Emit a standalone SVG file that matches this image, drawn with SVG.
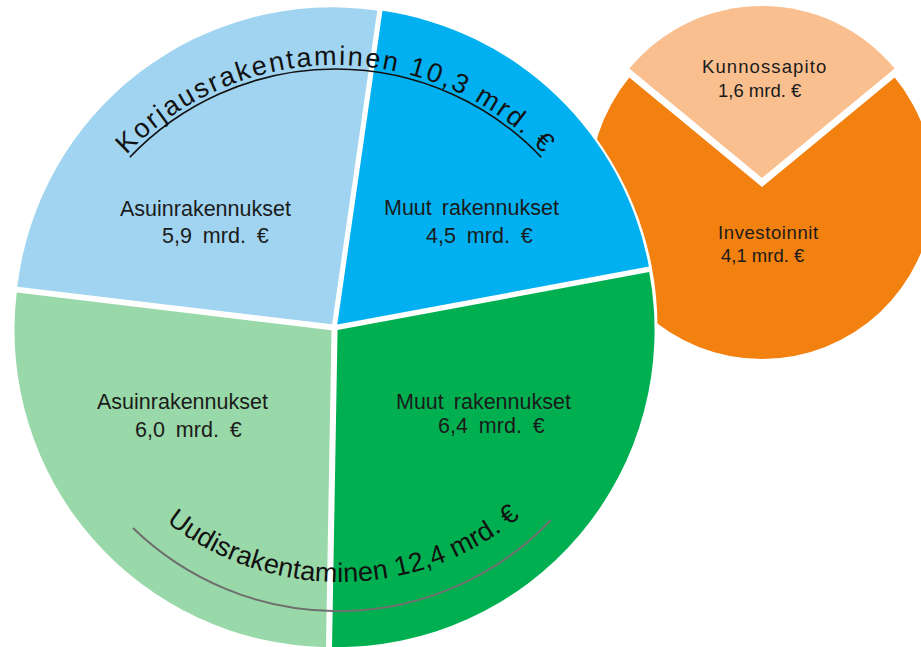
<svg xmlns="http://www.w3.org/2000/svg" width="921" height="647" viewBox="0 0 921 647">
<style>
.lbl{font-family:"Liberation Sans",Arial,sans-serif;font-size:21.5px;fill:#1b1b1b;word-spacing:4px}
.val{font-family:"Liberation Sans",Arial,sans-serif;font-size:21.5px;fill:#1b1b1b;word-spacing:5px}
.olbl{font-family:"Liberation Sans",Arial,sans-serif;font-size:18.5px;fill:#1b1b1b}
.arctxt{font-family:"Liberation Sans",Arial,sans-serif;font-size:27px;fill:#111}
</style>
<defs>
<path id="topTextPath" d="M126.6,154.8 A288,288 0 0,1 579.7,200.4"/>
<path id="botTextPath" d="M166.4,522.2 A282,282 0 0,0 584.2,441"/>
</defs>
<rect width="921" height="647" fill="#ffffff"/>
<g id="kunnossapito">
<path d="M762,178 L629.3,68.6 A172,172 0 0,1 894.7,68.6 Z" fill="#fabf8f"/>
<text class="olbl" x="702" y="73" letter-spacing="1.1">Kunnossapito</text>
<text class="olbl" x="718" y="97">1,6 mrd. €</text>
</g>
<g id="investoinnit">
<path d="M762,187 L894.7,77.6 A172,172 0 1,1 629.3,77.6 Z" fill="#f28110"/>
<text class="olbl" x="718" y="239" letter-spacing="0.6">Investoinnit</text>
<text class="olbl" x="721" y="262">4,1 mrd. €</text>
</g>
<circle cx="334.5" cy="327.5" r="323" fill="#ffffff"/>
<g id="korjaus-asuin">
<path d="M332.07,324.33 L17.30,286.80 A317,317 0 0,1 377.28,10.57 Z" fill="#a0d4f0"/>
<text class="lbl" x="120" y="216">Asuinrakennukset</text>
<text class="val" x="162" y="243">5,9 mrd. €</text>
</g>
<g id="korjaus-muut">
<path d="M337.27,324.61 L382.48,10.85 A317,317 0 0,1 648.91,266.57 Z" fill="#00b0f0"/>
<text class="lbl" x="384" y="215">Muut rakennukset</text>
<text class="val" x="426" y="243">4,5 mrd. €</text>
</g>
<g id="uudis-muut">
<path d="M337.56,330.08 L649.20,272.04 A317,317 0 0,1 332.03,647.03 Z" fill="#00b050"/>
<text class="lbl" x="396" y="409">Muut rakennukset</text>
<text class="val" x="438" y="433">6,4 mrd. €</text>
</g>
<g id="uudis-asuin">
<path d="M331.49,330.13 L325.96,647.08 A317,317 0 0,1 16.72,292.60 Z" fill="#99d8a8"/>
<text class="lbl" x="97" y="409">Asuinrakennukset</text>
<text class="val" x="135" y="437">6,0 mrd. €</text>
</g>
<g id="connectors">
<path d="M129.8,157.2 A284,284 0 0,1 541.2,157.2" fill="none" stroke="#111" stroke-width="1.6"/>
<path d="M133,528 A294.4,294.4 0 0,0 551,520" fill="none" stroke="#6e6e6e" stroke-width="2"/>
<text class="arctxt" letter-spacing="2.2"><textPath href="#topTextPath">Korjausrakentaminen 10,3 mrd. €</textPath></text>
<text class="arctxt" letter-spacing="0.2"><textPath href="#botTextPath">Uudisrakentaminen 12,4 mrd. €</textPath></text>
</g>
</svg>
